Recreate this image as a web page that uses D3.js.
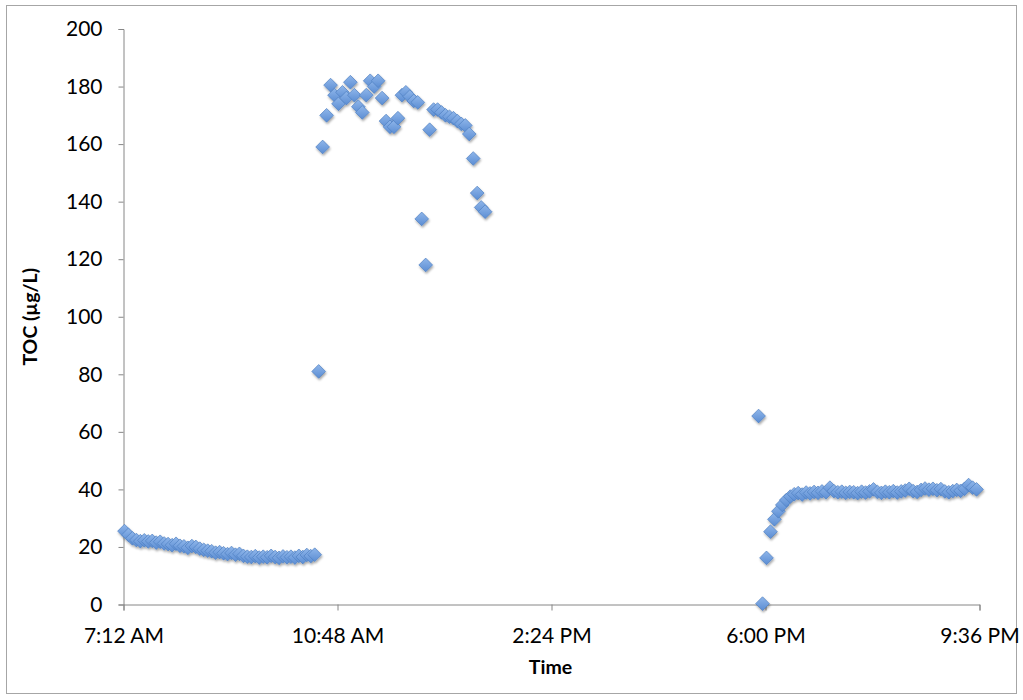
<!DOCTYPE html>
<html>
<head>
<meta charset="utf-8">
<script src="https://cdn.jsdelivr.net/npm/d3@7"></script>
<style>
  html, body { margin: 0; padding: 0; background: #fff; }
  svg { display: block; }
  .tick text { font-family: Lato, "Open Sans", sans-serif; font-size: 21px; fill: #000; }
  .axis-title { font-family: Lato, "Open Sans", sans-serif; font-size: 19.5px; font-weight: bold; fill: #000; }
</style>
</head>
<body>
<svg id="chart" width="1023" height="700"></svg>
<script>
// Morning baseline run
const times1 = ["7:13","7:17","7:21","7:25","7:29","7:33","7:37","7:41","7:45","7:49","7:53","7:57",
  "8:01","8:05","8:09","8:13","8:17","8:21","8:25","8:29","8:33","8:37","8:41","8:45","8:49","8:53","8:57",
  "9:01","9:05","9:09","9:13","9:17","9:21","9:25","9:29","9:33","9:37","9:41","9:45","9:49","9:53","9:57",
  "10:01","10:05","10:09","10:13","10:17","10:21","10:25"];
const toc1 = [25.5,24.2,23.0,22.4,22.0,22.3,21.9,22.1,21.5,21.8,21.2,21.0,
  20.6,21.1,20.4,20.2,19.7,20.3,20.0,19.4,19.0,18.7,18.5,18.0,18.2,17.8,17.5,
  17.9,17.3,17.6,16.9,16.6,16.5,16.8,16.3,16.6,16.4,16.9,16.5,16.2,16.7,16.4,
  16.6,16.3,16.9,16.5,17.2,16.8,17.3];

// Midday event
const times2 = ["10:29","10:33","10:37","10:41","10:45","10:49","10:53","10:57",
  "11:01","11:05","11:09","11:13","11:17","11:21","11:25","11:29","11:33","11:37","11:41","11:45","11:49","11:53","11:57",
  "12:01","12:05","12:09","12:13","12:17","12:21","12:25","12:29","12:33","12:37","12:41","12:45","12:49","12:53","12:57",
  "13:01","13:05","13:09","13:13","13:17"];
const toc2 = [81,159,170,180.5,177,174,178,176,
  181.5,177,173,171,177,182,180,182,176,168,166,166,169,177,178,
  176.5,175,174.5,134,118,165,172,172,171,170,169.5,169,168,167,
  166.5,163.5,155,143,138,136.5];

// Evening run
const times3 = ["17:53","17:57",
  "18:01","18:05","18:09","18:13","18:17","18:21","18:25","18:29","18:33","18:37","18:41","18:45","18:49","18:53","18:57",
  "19:01","19:05","19:09","19:13","19:17","19:21","19:25","19:29","19:33","19:37","19:41","19:45","19:49","19:53","19:57",
  "20:01","20:05","20:09","20:13","20:17","20:21","20:25","20:29","20:33","20:37","20:41","20:45","20:49","20:53","20:57",
  "21:01","21:05","21:09","21:13","21:17","21:21","21:25","21:29","21:33"];
const toc3 = [65.5,0.3,
  16.2,25.3,29.6,32.4,34.6,36.3,37.5,38.3,38.7,38.2,38.9,38.6,39.1,38.8,39.3,
  39.0,40.6,39.4,39.0,39.2,38.8,39.1,39.0,38.7,39.2,38.9,39.3,40.0,39.1,38.8,
  39.2,39.0,39.4,38.9,39.3,39.6,40.2,39.4,39.1,39.8,40.3,39.9,40.2,39.7,40.1,
  39.3,39.0,39.4,39.8,39.5,40.2,41.5,40.6,40.0];

const xTickLabels = ["7:12","10:48","14:24","18:00","21:36"];
const yTicks = [0,20,40,60,80,100,120,140,160,180,200];

const parseT = d3.timeParse("%H:%M");
const fmt = d3.timeFormat("%-I:%M %p");

const points = [];
[[times1, toc1], [times2, toc2], [times3, toc3]].forEach(([t, v]) => {
  t.forEach((s, i) => points.push({ t: parseT(s), v: v[i] }));
});

const svg = d3.select("#chart");
const plotL = 123.5, plotR = 979.5, plotT = 29, plotB = 604.5;

const x = d3.scaleTime()
  .domain([parseT(xTickLabels[0]), parseT(xTickLabels[xTickLabels.length - 1])])
  .range([plotL, plotR]);
const y = d3.scaleLinear().domain([0, 200]).range([plotB, plotT]);

// outer chart frame
svg.append("rect")
  .attr("x", 6.5).attr("y", 5.5).attr("width", 1010).attr("height", 688)
  .attr("fill", "none").attr("stroke", "#a6a6a6").attr("stroke-width", 1);

const defs = svg.append("defs");
const grad = defs.append("linearGradient").attr("id", "mk")
  .attr("x1", "0").attr("y1", "0").attr("x2", "0").attr("y2", "1");
grad.append("stop").attr("offset", "0%").attr("stop-color", "#8fb6ea");
grad.append("stop").attr("offset", "100%").attr("stop-color", "#5b8dd3");
const sh = defs.append("filter").attr("id", "shadow")
  .attr("x", "-50%").attr("y", "-50%").attr("width", "200%").attr("height", "200%");
sh.append("feDropShadow").attr("dx", 0.8).attr("dy", 1.8).attr("stdDeviation", 1.3)
  .attr("flood-color", "#000").attr("flood-opacity", 0.35);

// y axis
const yAxis = svg.append("g")
  .attr("transform", `translate(${plotL},0)`)
  .call(d3.axisLeft(y).tickValues(yTicks).tickSize(5).tickPadding(16).tickFormat(d3.format("d")));
yAxis.selectAll(".domain, .tick line").attr("stroke", "#868686");

// x axis
const xAxis = svg.append("g")
  .attr("transform", `translate(0,${plotB})`)
  .call(d3.axisBottom(x).tickValues(xTickLabels.map(parseT)).tickSize(6).tickPadding(18).tickFormat(fmt));
xAxis.selectAll(".domain, .tick line").attr("stroke", "#868686");

// axis titles
svg.append("text").attr("class", "axis-title")
  .attr("x", (plotL + plotR) / 2 - 1).attr("y", 674).attr("text-anchor", "middle").text("Time");
svg.append("text").attr("class", "axis-title")
  .attr("transform", `translate(37,${(plotT + plotB) / 2}) rotate(-90)`)
  .attr("text-anchor", "middle").text("TOC (µg/L)");

// diamond markers
const diamond = d3.symbol().type(d3.symbolDiamond2).size(120);
svg.append("g").attr("filter", "url(#shadow)")
  .selectAll("path").data(points).join("path")
  .attr("d", diamond)
  .attr("transform", d => `translate(${x(d.t)},${y(d.v)})`)
  .attr("fill", "url(#mk)")
  .attr("stroke", "#4f7fc2").attr("stroke-width", 0.7);
</script>
</body>
</html>
